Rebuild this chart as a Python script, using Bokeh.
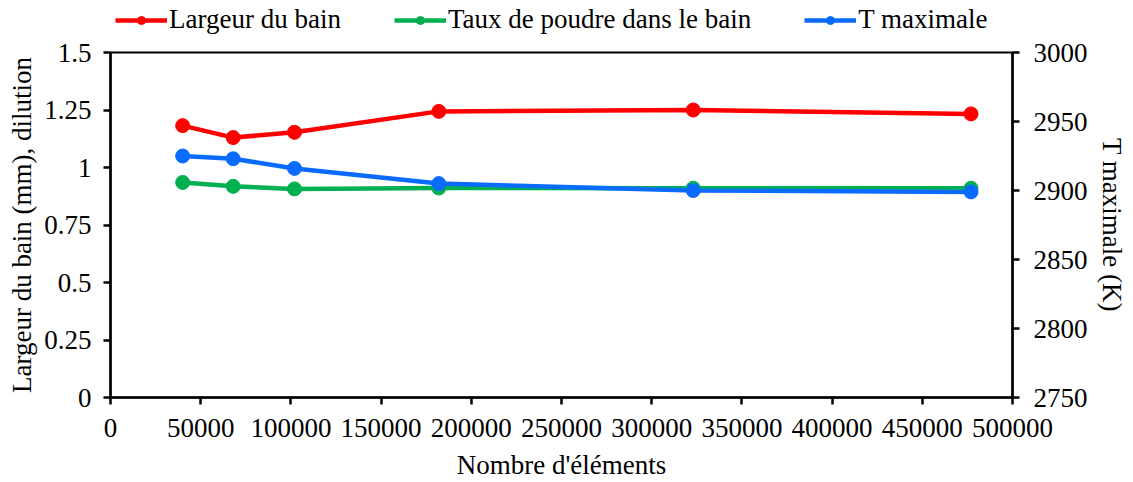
from bokeh.plotting import figure
from bokeh.layouts import column
from bokeh.models import (LinearAxis, Range1d, FixedTicker, BasicTickFormatter,
                          Legend, LegendItem)
from bokeh.embed import file_html
from bokeh.resources import INLINE

# Data
elements = [40000, 68000, 102000, 182000, 323000, 477000]
largeur = [1.182, 1.130, 1.153, 1.244, 1.250, 1.233]
taux = [0.935, 0.918, 0.907, 0.911, 0.910, 0.910]
t_max = [2925, 2923, 2916, 2905, 2900, 2899]

x_ticks = [0, 50000, 100000, 150000, 200000, 250000, 300000, 350000, 400000, 450000, 500000]
y_ticks = [0, 0.25, 0.5, 0.75, 1, 1.25, 1.5]
y_tick_labels = ["0", "0.25", "0.5", "0.75", "1", "1.25", "1.5"]
t_ticks = [2750, 2800, 2850, 2900, 2950, 3000]

series_names = ["Largeur du bain", "Taux de poudre dans le bain", "T maximale"]
colors = ["#FF0000", "#00B050", "#0A6CFF"]

FONT = "Liberation Serif"
FS = "27px"

# ---- main chart ----
p = figure(width=1133, height=446, output_backend="svg", toolbar_location=None,
           x_range=Range1d(0, 500000), y_range=Range1d(0, 1.5),
           min_border_left=110, min_border_right=121, min_border_top=16, min_border_bottom=84)
p.extra_y_ranges = {"T": Range1d(2750, 3000)}

p.xgrid.visible = False
p.ygrid.visible = False
p.outline_line_color = "black"
p.outline_line_width = 2

p.line(elements, largeur, color=colors[0], line_width=4.5)
p.scatter(elements, largeur, color=colors[0], size=14)
p.line(elements, taux, color=colors[1], line_width=4.5)
p.scatter(elements, taux, color=colors[1], size=14)
p.line(elements, t_max, color=colors[2], line_width=4.5, y_range_name="T")
p.scatter(elements, t_max, color=colors[2], size=14, y_range_name="T")

right = LinearAxis(y_range_name="T", axis_label="T maximale (K)")
p.add_layout(right, "right")

def style_axis(ax):
    ax.axis_line_color = "black"
    ax.axis_line_width = 2.5
    ax.major_tick_line_color = "black"
    ax.major_tick_line_width = 2.5
    ax.major_tick_in = 0
    ax.major_tick_out = 7
    ax.minor_tick_line_color = None
    ax.major_label_text_font = FONT
    ax.major_label_text_font_size = FS
    ax.major_label_text_color = "black"
    ax.axis_label_text_font = FONT
    ax.axis_label_text_font_size = FS
    ax.axis_label_text_font_style = "normal"
    ax.axis_label_text_color = "black"

xa = p.xaxis[0]
xa.ticker = FixedTicker(ticks=x_ticks)
xa.formatter = BasicTickFormatter(use_scientific=False)
xa.axis_label = "Nombre d'éléments"
style_axis(xa)
xa.major_label_standoff = 14
xa.axis_label_standoff = 10

ya = p.yaxis[0]
ya.ticker = FixedTicker(ticks=y_ticks)
ya.major_label_overrides = {t: l for t, l in zip(y_ticks, y_tick_labels)}
ya.axis_label = "Largeur du bain (mm), dilution"
style_axis(ya)
ya.major_label_standoff = 12
ya.axis_label_standoff = 4

right.ticker = FixedTicker(ticks=t_ticks)
style_axis(right)
right.major_label_standoff = 14
right.axis_label_standoff = 6

# ---- legend strip (renderers lie outside its visible range) ----
q = figure(width=1133, height=36, output_backend="svg", toolbar_location=None,
           x_range=Range1d(0, 500000), y_range=Range1d(-20, -19),
           x_axis_location=None, y_axis_location=None, min_border=0)
q.xgrid.visible = False
q.ygrid.visible = False
q.outline_line_color = None
l1 = q.line(elements, largeur, color=colors[0], line_width=4.5)
m1 = q.scatter(elements, largeur, color=colors[0], size=14)
l2 = q.line(elements, taux, color=colors[1], line_width=4.5)
m2 = q.scatter(elements, taux, color=colors[1], size=14)
l3 = q.line(elements, t_max, color=colors[2], line_width=4.5)
m3 = q.scatter(elements, t_max, color=colors[2], size=14)

legend = Legend(items=[LegendItem(label=series_names[0], renderers=[l1, m1]),
                       LegendItem(label=series_names[1], renderers=[l2, m2]),
                       LegendItem(label=series_names[2], renderers=[l3, m3])],
                orientation="horizontal", location=(5, 1),
                label_text_font=FONT, label_text_font_size=FS, label_text_color="black",
                glyph_width=52, glyph_height=20, spacing=53, padding=0, margin=0,
                label_standoff=2, label_height=30,
                border_line_color=None, background_fill_alpha=0)
q.add_layout(legend)

layout = column(q, p, spacing=0)
open("out.html", "w").write(file_html(layout, INLINE))
